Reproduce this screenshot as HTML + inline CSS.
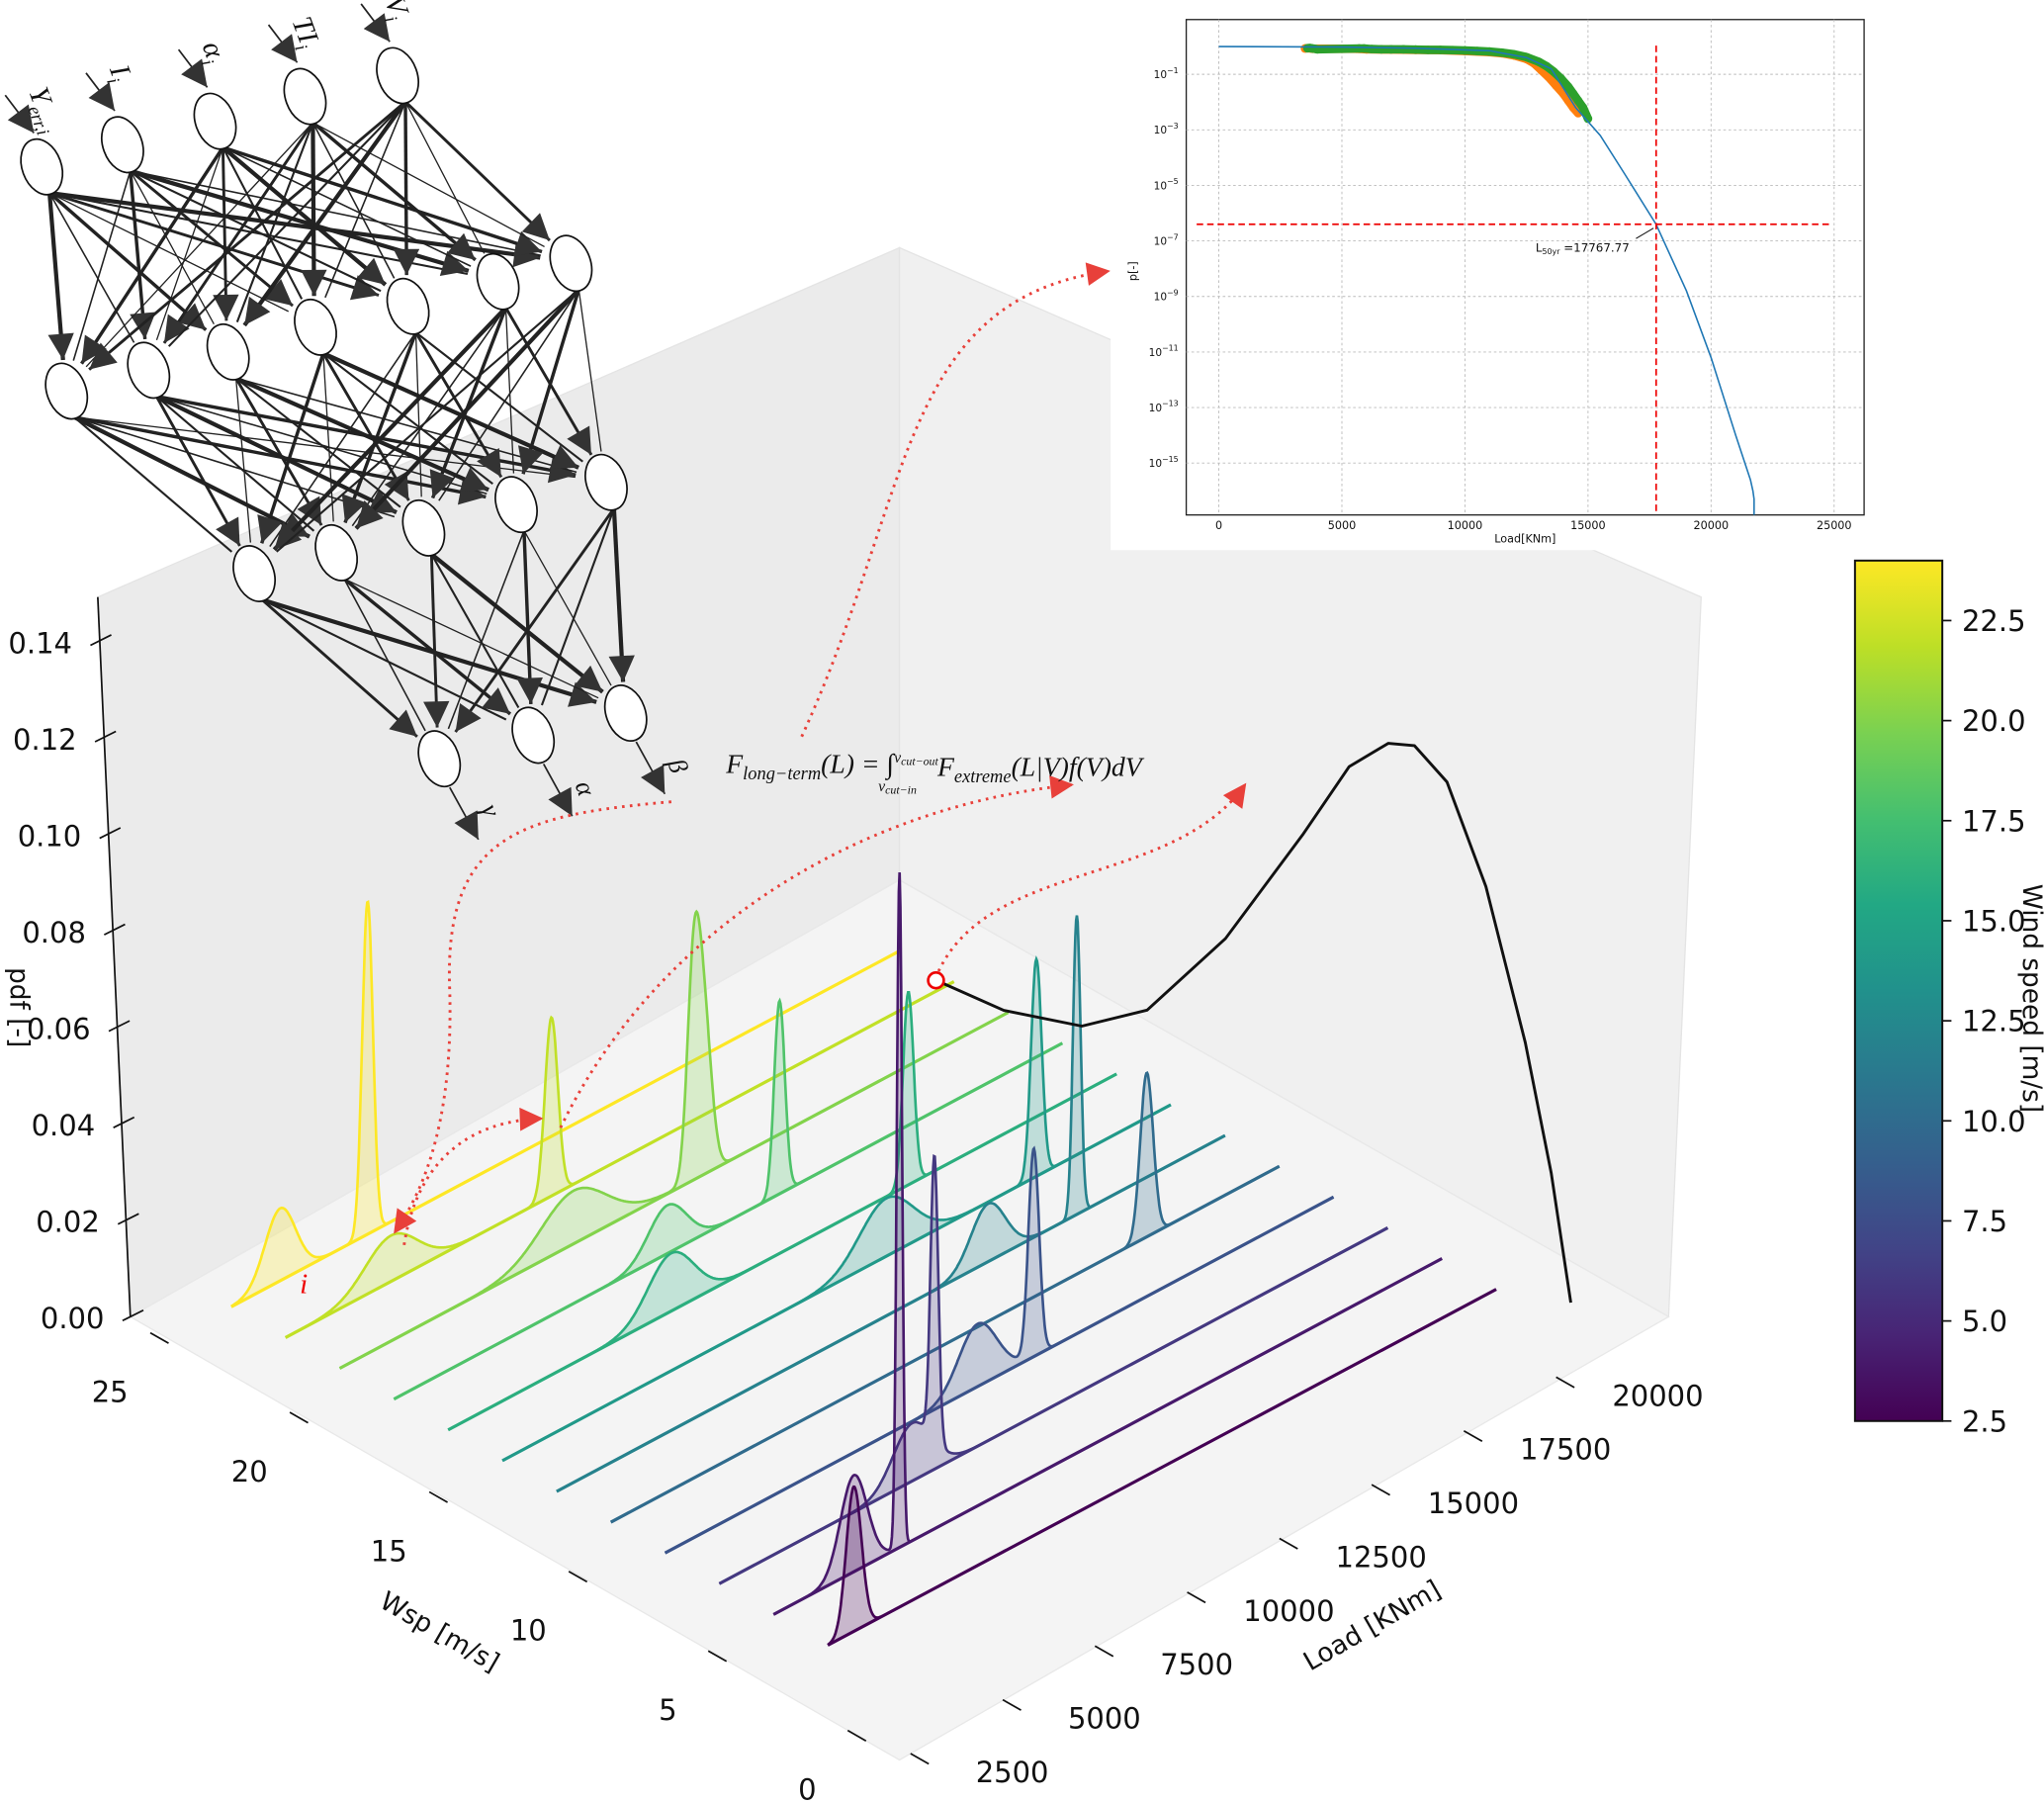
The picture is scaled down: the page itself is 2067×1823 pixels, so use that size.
<!DOCTYPE html>
<html><head><meta charset="utf-8">
<style>
html,body{margin:0;padding:0;background:#fff;}
svg{display:block;font-family:"DejaVu Sans","Liberation Sans",sans-serif;}
</style></head>
<body>
<svg id="root" width="2067" height="1823" viewBox="0 0 1568 1383" preserveAspectRatio="none" xmlns="http://www.w3.org/2000/svg">
<defs>
<linearGradient id="vir" x1="0" y1="1" x2="0" y2="0">
<stop offset="0" stop-color="#440154"/><stop offset="0.1" stop-color="#482475"/><stop offset="0.2" stop-color="#414487"/><stop offset="0.3" stop-color="#355f8d"/><stop offset="0.4" stop-color="#2a788e"/><stop offset="0.5" stop-color="#21918c"/><stop offset="0.6" stop-color="#22a884"/><stop offset="0.7" stop-color="#44bf70"/><stop offset="0.8" stop-color="#7ad151"/><stop offset="0.9" stop-color="#bddf26"/><stop offset="1" stop-color="#fde725"/>
</linearGradient>
<marker id="ahb" viewBox="0 0 10 10" refX="10" refY="5" markerWidth="22" markerHeight="20" markerUnits="userSpaceOnUse" orient="auto"><path d="M0,0 L10,5 L0,10z" fill="#333"/></marker>
<marker id="ra" viewBox="0 0 10 10" refX="9" refY="5" markerWidth="22" markerHeight="18" markerUnits="userSpaceOnUse" orient="auto"><path d="M0,0 L10,5 L0,10z" fill="#e8403a"/></marker>
<clipPath id="insetclip"><rect x="910" y="15" width="520" height="380"/></clipPath>
</defs>

<g>
<polygon points="75,458 690,190 690,675 100,1010" fill="#ebebeb" stroke="#e4e4e4"/>
<polygon points="690,190 1305,458 1280,1010 690,675" fill="#f0f0f0" stroke="#e4e4e4"/>
<polygon points="100,1010 690,675 1280,1010 690,1350" fill="#f4f4f4" stroke="#e8e8e8"/>
</g>
<g id="zaxis"></g>
<text transform="translate(8,742) rotate(90)" font-size="20" fill="#111">pdf [-]</text>
<g id="xaxes"></g>
<text transform="translate(290,1232) rotate(30)" font-size="20" fill="#111">Wsp [m/s]</text>
<text transform="translate(1005,1282) rotate(-30)" font-size="20" fill="#111">Load [KNm]</text>
<g id="series3d"></g>
<g id="ltcurve"></g>

<rect x="852" y="0" width="590" height="422" fill="#fff"/>
<g id="inset"></g>

<g id="nn"></g>

<g fill="none" stroke="#e8403a" stroke-width="2.2" stroke-dasharray="2,4">
<path d="M615,565 C700,380 690,230 850,208" marker-end="url(#ra)"/>
<path d="M515,615 C400,625 340,640 345,760 C348,870 320,920 303,945" marker-end="url(#ra)"/>
<path d="M310,955 C320,890 360,860 415,858" marker-end="url(#ra)"/>
<path d="M430,865 C500,720 650,620 822,602" marker-end="url(#ra)"/>
<path d="M720,745 C760,660 900,680 955,602" marker-end="url(#ra)"/>
</g>
<circle cx="718" cy="752" r="6" fill="#fff" stroke="#e00" stroke-width="2"/>
<text x="230" y="992" font-size="22" font-style="italic" fill="#e00" font-family="Liberation Serif,serif">i</text>

<text x="557" y="593" font-size="21" font-family="Liberation Serif,DejaVu Serif,serif" font-style="italic" fill="#111">F<tspan font-size="14" dy="5">long−term</tspan><tspan dy="-5">(L) = ∫</tspan><tspan font-size="12" dy="-8">v</tspan><tspan font-size="9" dy="2">cut−out</tspan><tspan font-size="12" dx="-46" dy="20">v</tspan><tspan font-size="9" dy="2">cut−in</tspan><tspan dx="16" dy="-14">F</tspan><tspan font-size="14" dy="5">extreme</tspan><tspan dy="-5">(L|V)f(V)dV</tspan></text>

<g>
<rect x="1423" y="430" width="67" height="660" fill="url(#vir)" stroke="#111" stroke-width="1.5"/>
<g id="cbticks"></g>
<text transform="translate(1552,678) rotate(90)" font-size="20" fill="#111">Wind speed [m/s]</text>
</g>
</svg>

<script>
var NS="http://www.w3.org/2000/svg";
function mk(tag,attrs,parent){var e=document.createElementNS(NS,tag);for(var k in attrs)e.setAttribute(k,attrs[k]);if(parent)parent.appendChild(e);return e;}

/* ---------- DATA ---------- */
var zTicks=[0.00,0.02,0.04,0.06,0.08,0.10,0.12,0.14];
var wspTicks=[0,5,10,15,20,25];
var loadTicks=[2500,5000,7500,10000,12500,15000,17500,20000];
var cbTicks=[2.5,5.0,7.5,10.0,12.5,15.0,17.5,20.0,22.5];
var windSpeeds=[24,22,20,18,16,14,12,10,8,6,4,2];
var peakLoads=[[5083,7370],[6565,10762],[9923,13063,13336],[10960,13895],[9636,15848],[13855,17780],[15097,17418],[17830],[11984,13452],[8851,9431],[5902,7097],[4483]];
var peakHeights=[[0.015,0.069],[0.0095,0.037],[0.011,0.040,0.031],[0.010,0.040],[0.012,0.040],[0.012,0.045],[0.012,0.062],[0.034],[0.013,0.043],[0.012,0.059],[0.020,0.14],[0.030]];
var peakSigmas=[[400,140],[680,170],[850,170,200],[500,140],[600,140],[700,140],[450,100],[170],[500,140],[500,100],[350,70],[200]];
var curveLoads=[22250,24025,26070,27780,29830,31850,33070,34090,34780,35630,36650,37680,38360,38870];
var curvePdf=[-0.0101,-0.0238,-0.0357,-0.0396,-0.0334,-0.0204,-0.0114,-0.0109,-0.0143,-0.0254,-0.0514,-0.0881,-0.118,-0.147];

var insetXTicks=[0,5000,10000,15000,20000,25000];
var insetYTicks=[-1,-3,-5,-7,-9,-11,-13,-15];
var exLoads=[0,5000,8000,11000,12500,13500,14500,15500,16500,17767,19000,20000,21000,21600,21700,21750,21750];
var exLogP=[0,-0.02,-0.06,-0.15,-0.4,-0.8,-2.2,-3.2,-4.6,-6.4,-8.8,-11.2,-14,-15.6,-16.0,-16.3,-18];
var greenLoads=[3600,3700,3800,3900,4000,5700,5900,6200,6600,7000,7500,8000,8500,9000,9500,10000,10500,11000,11500,12000,12500,13000,13300,13600,13900,14200,14400,14600,14800,15000];
var greenLogP=[-0.06,-0.05,-0.07,-0.08,-0.1,-0.07,-0.07,-0.09,-0.1,-0.1,-0.1,-0.11,-0.12,-0.12,-0.13,-0.14,-0.16,-0.18,-0.22,-0.28,-0.38,-0.55,-0.7,-0.9,-1.15,-1.45,-1.7,-1.95,-2.2,-2.6];
var orangeLoads=[3500,3600,3800,5600,6000,7000,8000,9000,10000,11000,11500,12000,12500,12800,13100,13400,13700,14000,14200,14400,14600];
var orangeLogP=[-0.07,-0.06,-0.08,-0.08,-0.1,-0.11,-0.12,-0.13,-0.16,-0.2,-0.24,-0.32,-0.45,-0.6,-0.85,-1.1,-1.4,-1.7,-1.95,-2.2,-2.4];
var threshLoad=17767.77, threshLogP=-6.4;

/* ---------- 3D projection ---------- */
function px(w,L,p){return 635-20.8*(w-2)+0.0293*(L-3800);}
function py(w,L,p){return 1262-11.8*(w-2)-0.0156*(L-3800)-3700*p;}
var vstops=["#440154","#482475","#414487","#355f8d","#2a788e","#21918c","#22a884","#44bf70","#7ad151","#bddf26","#fde725"];
function hex2(c){return [parseInt(c.substr(1,2),16),parseInt(c.substr(3,2),16),parseInt(c.substr(5,2),16)];}
function viridis(w){var t=(w-2.5)/(24-2.5);t=Math.max(0,Math.min(1,t));var f=t*10,i=Math.min(9,Math.floor(f)),r=f-i;var a=hex2(vstops[i]),b=hex2(vstops[i+1]);return "rgb("+[0,1,2].map(function(k){return Math.round(a[k]+(b[k]-a[k])*r);}).join(",")+")";}

/* z axis */
var za=document.getElementById('zaxis');
function zx(p){return 100-25*(p/0.14)*0.985;}
function zy(p){return 1010-p*3700;}
var zl=mk('line',{x1:zx(0),y1:zy(0),x2:75,y2:458,stroke:'#111','stroke-width':1.3},za);


zTicks.forEach(function(t){
  var x=zx(t),y=zy(t);
  var tl=mk('line',{x1:x-6,y1:y+3,x2:x+10,y2:y-5,stroke:'#111','stroke-width':1.3},za);
  
  
  var tx=mk('text',{x:x-20,y:y+9,'font-size':22,'text-anchor':'end',fill:'#111'},za);
  
  
  tx.textContent=t.toFixed(2);
});

/* floor axes */
var xa=document.getElementById('xaxes');
wspTicks.forEach(function(w){
  var x=690-21.4*(w+1.2),y=1350-12.2*(w+1.2);
  var tl=mk('line',{x1:x,y1:y,x2:x-14,y2:y-8,stroke:'#111','stroke-width':1.3},xa);
  
  
  var tx=mk('text',{x:x-45,y:y+45,'font-size':22,'text-anchor':'middle',fill:'#111'},xa);
  
  
  tx.textContent=w;
});
loadTicks.forEach(function(L){
  var x=690+(L-2200)*0.0283,y=1350-(L-2200)*0.0165;
  var tl=mk('line',{x1:x,y1:y,x2:x+14,y2:y+8,stroke:'#111','stroke-width':1.3},xa);
  
  
  var tx=mk('text',{x:x+78,y:y+22,'font-size':22,'text-anchor':'middle',fill:'#111'},xa);
  
  
  tx.textContent=L;
});

/* series */
var sg=document.getElementById('series3d');
windSpeeds.forEach(function(w,i){
  var col=viridis(w);
  var pts=[];
  for(var L=3800;L<=21300;L+=20){
    var p=0;
    peakLoads[i].forEach(function(mu,j){var s=peakSigmas[i][j];p+=peakHeights[i][j]*Math.exp(-0.5*(L-mu)*(L-mu)/(s*s));});
    pts.push(px(w,L,p).toFixed(1)+","+py(w,L,p).toFixed(1));
  }
  var base=px(w,21300,0).toFixed(1)+","+py(w,21300,0).toFixed(1)+" "+px(w,3800,0).toFixed(1)+","+py(w,3800,0).toFixed(1);
  var f=mk('polygon',{points:pts.join(" ")+" "+base,fill:col,'fill-opacity':0.25,stroke:'none'},sg);
  
  
  var bl=mk('line',{x1:px(w,3800,0),y1:py(w,3800,0),x2:px(w,21300,0),y2:py(w,21300,0),stroke:col,'stroke-width':2.4},sg);
  
  
  var l=mk('polyline',{points:pts.join(" "),fill:'none',stroke:col,'stroke-width':2},sg);
  
  
});

/* long-term curve */
var cg=document.getElementById('ltcurve');
var cp=curveLoads.map(function(L,i){return px(24,L,curvePdf[i]).toFixed(1)+","+py(24,L,curvePdf[i]).toFixed(1);});
var cl=mk('polyline',{points:cp.join(" "),fill:'none',stroke:'#111','stroke-width':2.2,'stroke-linejoin':'round'},cg);



/* colorbar ticks */
var cb=document.getElementById('cbticks');
cbTicks.forEach(function(v){
  var y=1090-(v-2.5)*30.7;
  var t=mk('line',{x1:1490,y1:y,x2:1497,y2:y,stroke:'#111','stroke-width':1.3},cb);
  
  
  var tx=mk('text',{x:1505,y:y+8,'font-size':22,fill:'#111'},cb);
  
  
  tx.textContent=v.toFixed(1);
});

/* inset chart */
var ig=document.getElementById('inset');
function ix(L){return 935+L*(472/25000);}
function iy(lp){return 57+(-1-lp)*21.3;}
var fr=mk('rect',{x:910,y:15,width:520,height:380,fill:'#fff',stroke:'#222','stroke-width':1},ig);


insetXTicks.forEach(function(L){
  var g=mk('line',{x1:ix(L),y1:15,x2:ix(L),y2:395,stroke:'#bbb','stroke-width':0.7,'stroke-dasharray':'2,2'},ig);
  
  
  var t=mk('text',{x:ix(L),y:406,'font-size':8.5,'text-anchor':'middle',fill:'#111'},ig);
  
  
  t.textContent=L;
});
insetYTicks.forEach(function(e){
  var g=mk('line',{x1:910,y1:iy(e),x2:1430,y2:iy(e),stroke:'#bbb','stroke-width':0.7,'stroke-dasharray':'2,2'},ig);
  
  
  var t=mk('text',{x:904,y:iy(e)+3,'font-size':8,'text-anchor':'end',fill:'#111'},ig);
  
  
  t.textContent='10';
  var s=mk('tspan',{'font-size':6,dy:-4},t);
  s.textContent='−'+(-e);
});
var xt=mk('text',{x:1170,y:416,'font-size':8.5,'text-anchor':'middle',fill:'#111'},ig);


xt.textContent='Load[KNm]';
var yt=mk('text',{transform:'translate(872,208) rotate(-90)','font-size':8.5,'text-anchor':'middle',fill:'#111'},ig);


yt.textContent='p[-]';
var clipG=mk('g',{'clip-path':'url(#insetclip)'},ig);
function scat(Ls,Ps,col,name){
  Ls.forEach(function(L,i){
    var c=mk('circle',{cx:ix(L),cy:iy(Ps[i]),r:3.3,fill:col},clipG);
    
    
    if(i<Ls.length-1){
      var l=mk('line',{x1:ix(L),y1:iy(Ps[i]),x2:ix(Ls[i+1]),y2:iy(Ps[i+1]),stroke:col,'stroke-width':6.5},clipG);
      
      
    }
  });
}
scat(orangeLoads,orangeLogP,'#ff7f0e','orange-point');
scat(greenLoads,greenLogP,'#2ca02c','green-point');
var bp=exLoads.map(function(L,i){return ix(L).toFixed(1)+","+iy(exLogP[i]).toFixed(1);});
var bline=mk('polyline',{points:bp.join(" "),fill:'none',stroke:'#1f77b4','stroke-width':1.2},clipG);


var hl=mk('line',{x1:918,y1:iy(threshLogP),x2:1405,y2:iy(threshLogP),stroke:'#e00','stroke-width':1.3,'stroke-dasharray':'5,3'},ig);


var vl=mk('line',{x1:ix(threshLoad),y1:35,x2:ix(threshLoad),y2:395,stroke:'#e00','stroke-width':1.3,'stroke-dasharray':'5,3'},ig);


var an=mk('line',{x1:1255,y1:183,x2:ix(threshLoad)-2,y2:iy(threshLogP)+3,stroke:'#111','stroke-width':0.8},ig);


var at=mk('text',{x:1178,y:193,'font-size':9,fill:'#111'},ig);


at.textContent='L';
var s1=mk('tspan',{'font-size':6,dy:2},at);s1.textContent='50yr';
var s2=mk('tspan',{dy:-2},at);s2.textContent=' =17767.77';

/* neural network */
var nn=document.getElementById('nn');
var layers=[
 [[32,128],[94,111],[165,93],[234,74],[305,58]],
 [[51,300],[114,284],[175,270],[242,251],[313,235],[382,216],[438,202]],
 [[195,440],[258,424],[325,405],[396,387],[465,370]],
 [[337,582],[409,564],[480,547]]
];
var widths=[3.2,1.2,2.6,1.0,2.2,1.6];
var edgesG=mk('g',{},nn);
var k=0;
for(var li=0;li<3;li++){
  layers[li].forEach(function(a){
    layers[li+1].forEach(function(b){
      var dx=b[0]-a[0],dy=b[1]-a[1],d=Math.sqrt(dx*dx+dy*dy);
      var ex=b[0]-dx/d*24,ey=b[1]-dy/d*24;
      var w=widths[k%widths.length];k++;
      var at2={x1:a[0]+6,y1:a[1]+20,x2:ex,y2:ey,stroke:'#222','stroke-width':w};
      if(w>2)at2['marker-end']='url(#ahb)';
      var e=mk('line',at2,edgesG);
      
      
    });
  });
}
layers.forEach(function(L,li){
  L.forEach(function(n){
    var c=mk('ellipse',{cx:n[0],cy:n[1],rx:15,ry:22,fill:'#fff',stroke:'#111','stroke-width':1.3,transform:'rotate(-20 '+n[0]+' '+n[1]+')'},nn);
    
    
  });
});
var inLabels=['Y','I','α','TI','V'];
var inSubs=['err,i','i','i','i','i'];
layers[0].forEach(function(n,i){
  var a=mk('line',{x1:n[0]-28,y1:n[1]-55,x2:n[0]-6,y2:n[1]-26,stroke:'#222','stroke-width':1.3,'marker-end':'url(#ahb)'},nn);
  
  
  var t=mk('text',{transform:'translate('+(n[0]-10)+','+(n[1]-58)+') rotate(70)','font-size':22,'font-family':'Liberation Serif,serif','font-style':'italic',fill:'#111'},nn);
  
  
  t.textContent=inLabels[i];
  var s=mk('tspan',{'font-size':14,dy:5},t);s.textContent=inSubs[i];
});
var outLabels=['γ','α','β'];
layers[3].forEach(function(n,i){
  var a=mk('line',{x1:n[0]+8,y1:n[1]+22,x2:n[0]+30,y2:n[1]+62,stroke:'#222','stroke-width':1.3,'marker-end':'url(#ahb)'},nn);
  
  
  var t=mk('text',{transform:'translate('+(n[0]+32)+','+(n[1]+38)+') rotate(70)','font-size':20,'font-family':'Liberation Serif,serif','font-style':'italic',fill:'#111'},nn);
  
  
  t.textContent=outLabels[i];
});
</script>
</body></html>
